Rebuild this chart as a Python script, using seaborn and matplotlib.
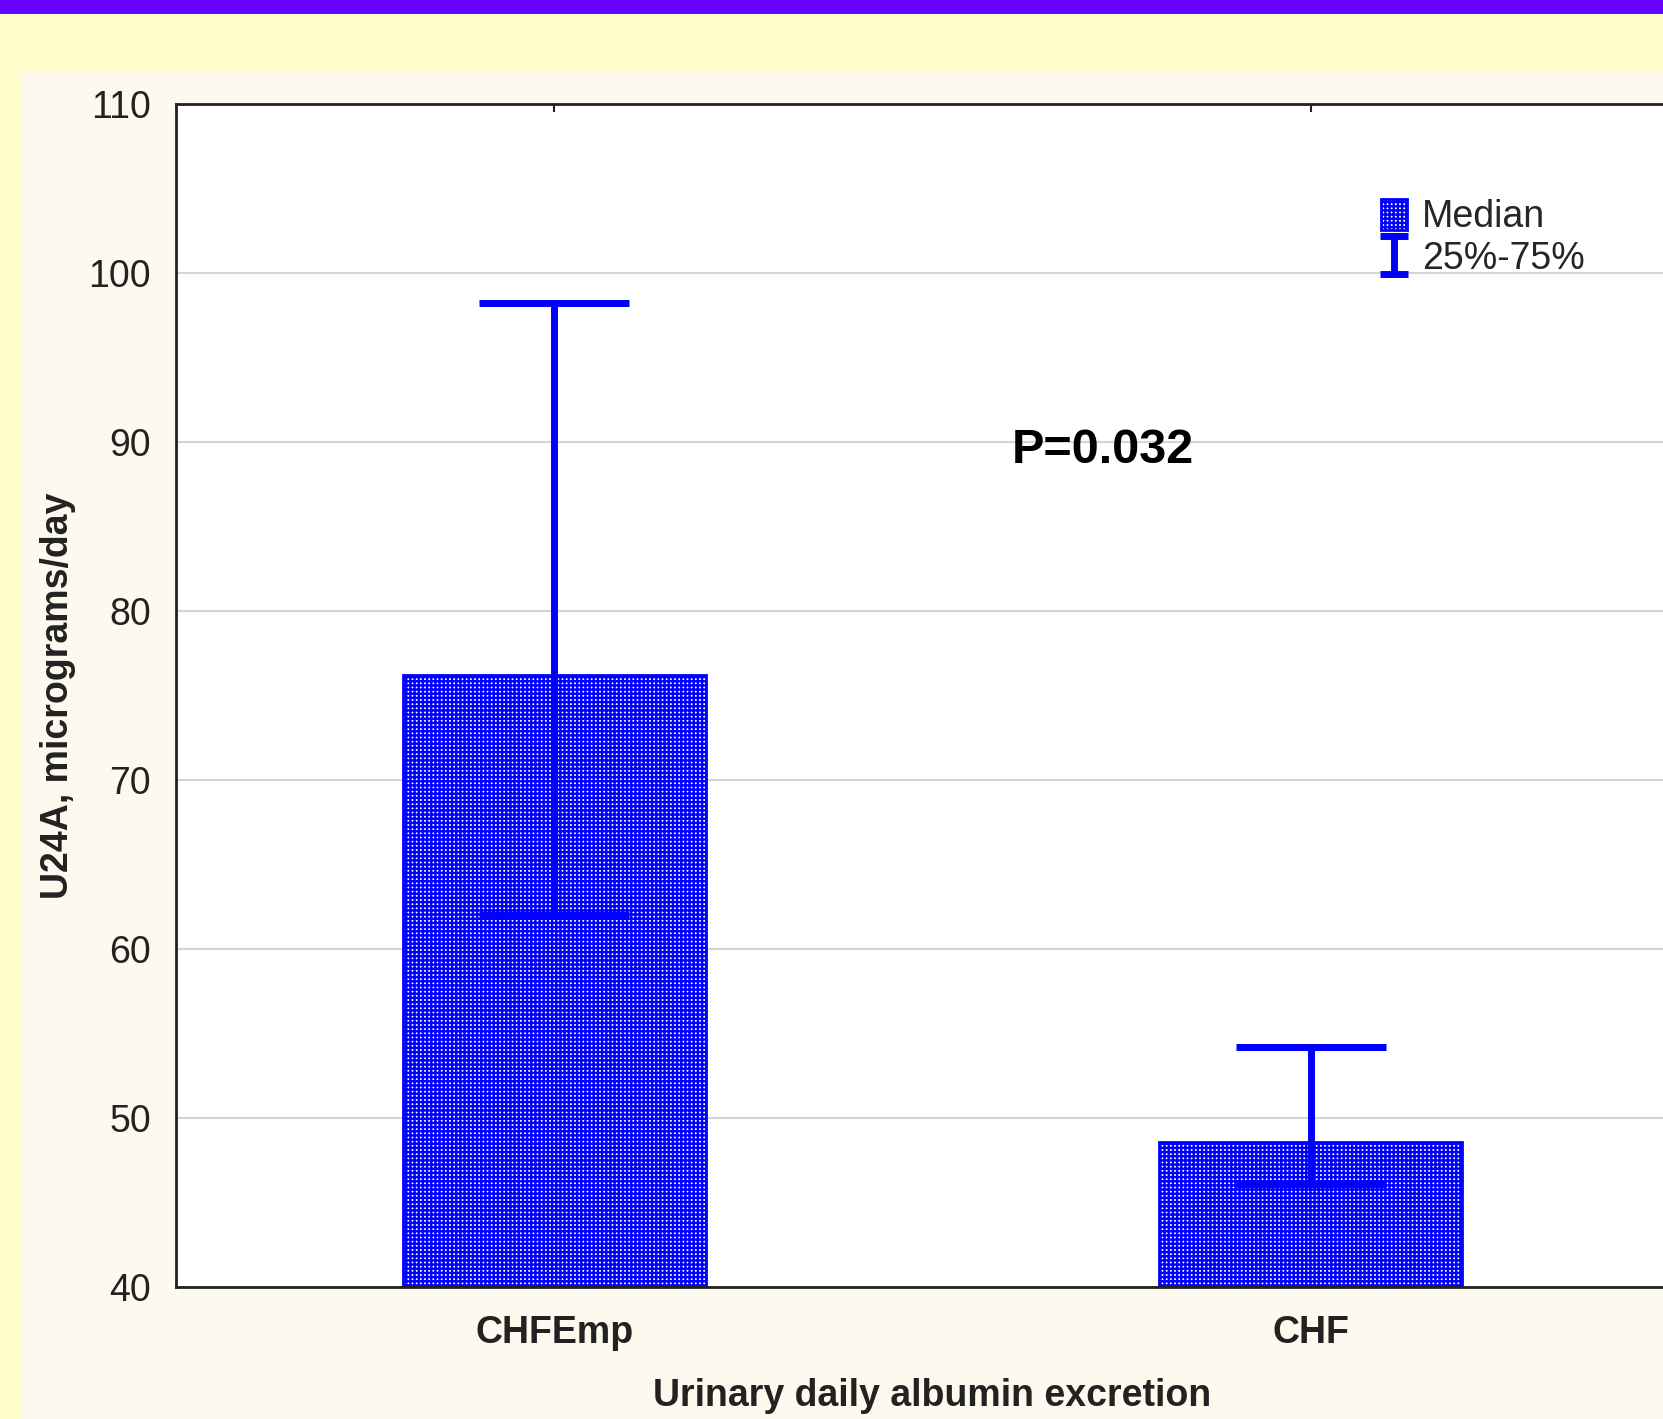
import matplotlib
matplotlib.use("Agg")
import matplotlib.pyplot as plt
import seaborn as sns
import numpy as np
import pandas as pd
from matplotlib.patches import Rectangle, Patch

categories = ["CHFEmp", "CHF"]
medians = [76.2, 48.6]
q25 = [62.0, 46.1]
q75 = [98.2, 54.2]
yticks = [40, 50, 60, 70, 80, 90, 100, 110]

sns.set_theme(style="white")
plt.rcParams['font.family'] = ['Liberation Sans Narrow', 'Liberation Sans', 'DejaVu Sans']
plt.rcParams['hatch.linewidth'] = 1.7
plt.rcParams['hatch.color'] = '#0000FF'

HATCH = '++++'
W, H = 1663, 1419
fig = plt.figure(figsize=(W / 100, H / 100), dpi=100, facecolor='#FFFDCB')
# purple top band
fig.patches.append(Rectangle((0, 1 - 14 / H), 1, 14 / H, transform=fig.transFigure,
                             facecolor='#6600FF', edgecolor='none', zorder=-5))
# cream inner panel
fig.patches.append(Rectangle((21 / W, 0), 1, 1 - 72 / H, transform=fig.transFigure,
                             facecolor='#FEF9EE', edgecolor='none', zorder=-5))

left, right, top, bottom = 176, 1689, 104, 1287
ax = fig.add_axes([left / W, 1 - bottom / H, (right - left) / W, (bottom - top) / H])
ax.set_facecolor('white')

df = pd.DataFrame({"group": categories, "median": medians})
sns.barplot(data=df, x="group", y="median", order=categories, ax=ax, width=0.4,
            color='white', edgecolor='#0000FF', linewidth=2, errorbar=None,
            saturation=1, zorder=2)
for p in ax.patches:
    p.set_hatch(HATCH)
    p.set_facecolor('white')
    p.set_edgecolor('#0000FF')

xpos = np.arange(len(categories))
med = np.array(medians)
lo = med - np.array(q25)
hi = np.array(q75) - med
ax.errorbar(xpos, med, yerr=[lo, hi], fmt='none', ecolor='#0000FF',
            elinewidth=5, capsize=54, capthick=5, zorder=3)
# small-cap proxy for the legend only
eb_proxy = ax.errorbar([np.nan], [np.nan], yerr=[[1], [1]], fmt='none', ecolor='#0000FF',
                       elinewidth=5, capsize=10, capthick=5)

ax.set_ylim(40, 110)
ax.set_xlim(-0.5, 1.5)
ax.set_yticks(yticks)
ax.set_yticklabels([str(v) for v in yticks], fontsize=27)
ax.set_xticks(xpos)
ax.set_xticklabels(categories, fontsize=27, fontweight='bold')
ax.grid(axis='y', color='#D4D4D4', linewidth=1.5, zorder=0)
ax.set_axisbelow(True)
for s in ax.spines.values():
    s.set_color('#222222')
    s.set_linewidth(2)
ax.tick_params(axis='x', direction='in', length=6, width=1.5, top=True, bottom=True,
               pad=20, colors='#222222')
ax.tick_params(axis='y', length=0, pad=18, colors='#222222')
ax.set_xlabel("Urinary daily albumin excretion", fontsize=27, fontweight='bold',
              color='#222222')
ax.set_ylabel("U24A, micrograms/day", fontsize=27, fontweight='bold',
              color='#222222')
ax.xaxis.set_label_coords(0.5, -0.092)
ax.xaxis.label.set_va('center')
ax.yaxis.set_label_coords(-0.078, 0.5)
ax.yaxis.label.set_va('center')

ax.text(0.725, 89.5, "P=0.032", fontsize=35, fontweight='bold', ha='center',
        va='center', color='black')

handles = [Patch(facecolor='white', edgecolor='#0000FF', hatch=HATCH, linewidth=2),
           eb_proxy]
ax.legend(handles, ["Median", "25%-75%"], loc='upper left',
          bbox_to_anchor=((1362 - left) / (right - left), (1287 - 180) / (bottom - top)),
          frameon=False, fontsize=27, handlelength=0.7, handleheight=0.9,
          handletextpad=0.4, labelspacing=0.15, borderpad=0)

fig.savefig("out.png", dpi=100, facecolor=fig.get_facecolor())
